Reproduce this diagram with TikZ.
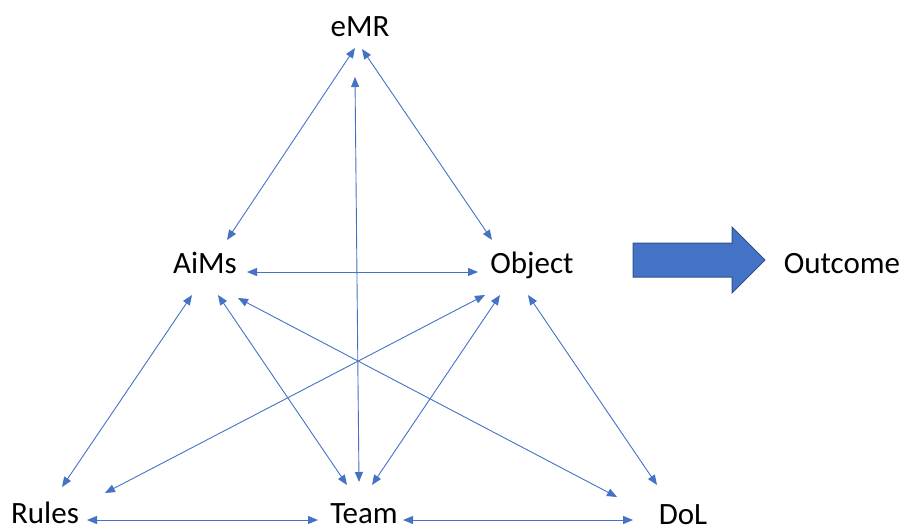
\documentclass[tikz,border=0pt]{standalone}
\usepackage{fontspec}
\setmainfont{Carlito}
\usetikzlibrary{arrows.meta,calc}
\definecolor{lnblue}{HTML}{4472C4}
\definecolor{edgeblue}{HTML}{2F528F}
\begin{document}
\begin{tikzpicture}[x=1pt,y=-1pt,
  lbl/.style={anchor=base,inner sep=0pt,font=\fontsize{31}{36}\selectfont},
  link/.style={draw=lnblue,line width=0.9pt,{Triangle[length=10pt,width=8pt]}-{Triangle[length=10pt,width=8pt]}}]
\useasboundingbox (0,0) rectangle (905,527);
\node[lbl] (emr) at (360,37) {eMR};
\node[lbl] (aims) at (205,273) {AiMs};
\node[lbl] (obj) at (532,273) {Object};
\node[lbl] (rules) at (45,523) {Rules};
\node[lbl] (team) at (364,523) {Team};
\node[lbl] (dol) at (683,524) {DoL};
\node[lbl] (out) at (842,273) {Outcome};
% connectors
\draw[link] ($(emr.base)+(-5,11)$) -- ($(aims.base)+(22,-33)$);
\draw[link] ($(emr.base)+(2,12)$) -- ($(obj.base)+(-40,-33)$);
\draw[link] ($(emr.base)+(-5,40)$) -- ($(team.base)+(-5,-41)$);
\draw[link] ($(aims.base)+(42,-1)$) -- ($(obj.base)+(-54,-1)$);
\draw[link] ($(aims.base)+(-13,22)$) -- ($(rules.base)+(17,-36)$);
\draw[link] ($(aims.base)+(13,22)$) -- ($(team.base)+(-17,-38)$);
\draw[link] ($(aims.base)+(33,25)$) -- ($(dol.base)+(-66,-27)$);
\draw[link] ($(obj.base)+(-47,22)$) -- ($(rules.base)+(60,-30)$);
\draw[link] ($(obj.base)+(-32,22)$) -- ($(team.base)+(8,-38)$);
\draw[link] ($(obj.base)+(-4,22)$) -- ($(dol.base)+(-26,-39)$);
\draw[link] ($(rules.base)+(42,-3)$) -- ($(team.base)+(-46,-3)$);
\draw[link] ($(team.base)+(39,-3)$) -- ($(dol.base)+(-50,-4)$);
% block arrow
\draw[fill=lnblue,draw=edgeblue,line width=1pt,line join=miter]
  (633,243) -- (732,243) -- (732,227) -- (765,260) -- (732,293) -- (732,277) -- (633,277) -- cycle;
\end{tikzpicture}
\end{document}
